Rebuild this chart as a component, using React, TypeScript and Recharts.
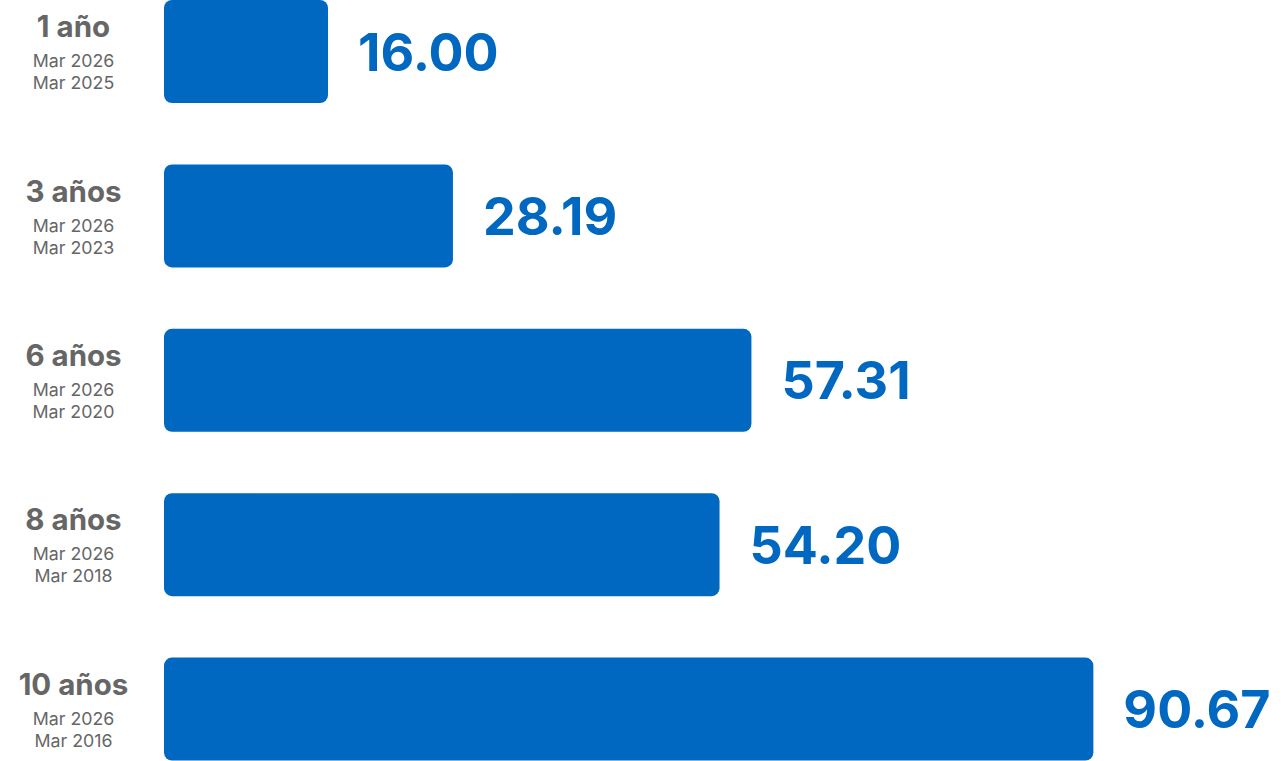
import { Bar, BarChart, LabelList, XAxis, YAxis } from "recharts";

const periods = ["1 año", "3 años", "6 años", "8 años", "10 años"];
const fromDates = ["Mar 2025", "Mar 2023", "Mar 2020", "Mar 2018", "Mar 2016"];
const toDates = ["Mar 2026", "Mar 2026", "Mar 2026", "Mar 2026", "Mar 2026"];
const returns = [16.0, 28.19, 57.31, 54.2, 90.67];

const data = periods.map((period, i) => ({
	period,
	from: fromDates[i],
	to: toDates[i],
	value: returns[i],
}));

const BLUE = "#0068c0";
const GREY = "#666666";
const FONT = "Inter, 'Noto Sans', sans-serif";

const PeriodTick = (props: any) => {
	const { y, payload } = props;
	const idx = periods.indexOf(payload.value);
	const cx = 73.5;
	return (
		<g>
			<text x={cx} y={y - 14} textAnchor="middle" fill={GREY} fontFamily={FONT} fontSize={29.5} fontWeight={700}>
				{payload.value}
			</text>
			<text x={cx} y={y + 16} textAnchor="middle" fill={GREY} fontFamily={FONT} fontSize={17.8}>
				{toDates[idx]}
			</text>
			<text x={cx} y={y + 38} textAnchor="middle" fill={GREY} fontFamily={FONT} fontSize={17.8}>
				{fromDates[idx]}
			</text>
		</g>
	);
};

const ValueLabel = (props: any) => {
	const { x, y, width, height, value } = props;
	return (
		<text x={x + width + 30} y={y + height / 2 + 19} fill={BLUE} fontFamily={FONT} fontSize={52} fontWeight={700}>
			{Number(value).toFixed(2)}
		</text>
	);
};

export default function App() {
	return (
		<div style={{ width: 1283, height: 761, overflow: "hidden", background: "#fff" }}>
			<style>{"body{margin:0}"}</style>
			<BarChart
				width={1283}
				height={761}
				data={data}
				layout="vertical"
				margin={{ top: -31, right: 94, bottom: -30, left: 0 }}
				barSize={103}
			>
				<XAxis type="number" domain={[0, 100]} hide />
				<YAxis
					type="category"
					dataKey="period"
					width={164}
					axisLine={false}
					tickLine={false}
					tick={<PeriodTick />}
					interval={0}
				/>
				<Bar dataKey="value" fill={BLUE} radius={8} isAnimationActive={false}>
					<LabelList dataKey="value" content={<ValueLabel />} />
				</Bar>
			</BarChart>
		</div>
	);
}
